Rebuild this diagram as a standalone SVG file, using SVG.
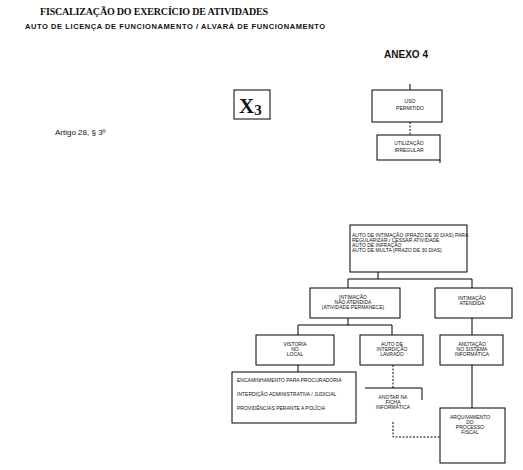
<svg xmlns="http://www.w3.org/2000/svg" width="523" height="470" viewBox="0 0 523 470">
<style>
.box{fill:none;stroke:#000;stroke-width:1}
.ln{fill:none;stroke:#000;stroke-width:1}
.dash{fill:none;stroke:#000;stroke-width:1;stroke-dasharray:2 1.5}
.t{font-family:"Liberation Sans",Arial,sans-serif;font-size:5px;fill:#111;text-anchor:middle}
.tl{font-family:"Liberation Sans",Arial,sans-serif;font-size:5px;fill:#111}
</style>
<rect width="523" height="470" fill="#fff"/>
<g id="title">
<text x="154" y="15" font-family="Liberation Serif,serif" font-weight="bold" font-size="10" text-anchor="middle" textLength="228" fill="#111">FISCALIZAÇÃO DO EXERCÍCIO DE ATIVIDADES</text>
<text x="175" y="29" font-family="Liberation Sans,Arial,sans-serif" font-weight="bold" font-size="7.5" text-anchor="middle" textLength="300" fill="#111">AUTO DE LICENÇA DE FUNCIONAMENTO / ALVARÁ DE FUNCIONAMENTO</text>
</g>
<g id="anexo"><text x="406" y="58" font-family="Liberation Sans,Arial,sans-serif" font-weight="bold" font-size="10" text-anchor="middle" fill="#111">ANEXO 4</text></g>
<g id="x3">
<rect x="234" y="90" width="36" height="29" class="box"/>
<text x="239" y="113" font-family="Liberation Serif,serif" font-weight="bold" font-size="21" fill="#111">X<tspan font-size="15" dy="2">3</tspan></text>
</g>
<g id="artigo"><text x="55" y="135" font-family="Liberation Sans,Arial,sans-serif" font-size="8" fill="#111">Artigo 28, § 3º</text></g>
<g id="connectors">
<path class="ln" d="M410 84V90"/>
<path class="dash" d="M410 122V135"/>
<path class="ln" d="M440 160V163"/>
<path class="ln" d="M378 272V279M348 279H472M348 279V288M472 279V288"/>
<path class="ln" d="M348 318V325M298 325H392M298 325V335M392 325V335"/>
<path class="ln" d="M472 318V335"/>
<path class="ln" d="M298 365V372"/>
<path class="dash" d="M393 365V388"/>
<path class="dash" d="M393 422V437H440"/>
<path class="ln" d="M472 365V408"/>
</g>
<g id="uso">
<rect x="372" y="90" width="70" height="32" class="box"/>
<text class="t" x="410" y="103">USO</text>
<text class="t" x="410" y="110">PERMITIDO</text>
</g>
<g id="utilizacao">
<rect x="377" y="135" width="63" height="25" class="box"/>
<text class="t" x="409" y="145">UTILIZAÇÃO</text>
<text class="t" x="409" y="152">IRREGULAR</text>
</g>
<g id="auto-intimacao">
<rect x="350" y="225" width="117" height="47" class="box"/>
<text class="tl" x="352" y="237">AUTO DE INTIMAÇÃO (PRAZO DE 30 DIAS) PARA</text>
<text class="tl" x="352" y="242">REGULARIZAR / CESSAR ATIVIDADE</text>
<text class="tl" x="352" y="247">AUTO DE INFRAÇÃO</text>
<text class="tl" x="352" y="252">AUTO DE MULTA (PRAZO DE 30 DIAS)</text>
</g>
<g id="nao-atendida">
<rect x="310" y="288" width="90" height="30" class="box"/>
<text class="t" x="353" y="299">INTIMAÇÃO</text>
<text class="t" x="353" y="304">NÃO ATENDIDA</text>
<text class="t" x="353" y="309">(ATIVIDADE PERMANECE)</text>
</g>
<g id="atendida">
<rect x="435" y="288" width="77" height="30" class="box"/>
<text class="t" x="472" y="300">INTIMAÇÃO</text>
<text class="t" x="472" y="305">ATENDIDA</text>
</g>
<g id="vistoria">
<rect x="256" y="335" width="78" height="30" class="box"/>
<text class="t" x="295" y="346">VISTORIA</text>
<text class="t" x="295" y="351">NO</text>
<text class="t" x="295" y="356">LOCAL</text>
</g>
<g id="interdicao">
<rect x="360" y="335" width="63" height="30" class="box"/>
<text class="t" x="392" y="346">AUTO DE</text>
<text class="t" x="392" y="351">INTERDIÇÃO</text>
<text class="t" x="392" y="356">LAVRADO</text>
</g>
<g id="anotacao">
<rect x="440" y="335" width="63" height="30" class="box"/>
<text class="t" x="472" y="346">ANOTAÇÃO</text>
<text class="t" x="472" y="351">NO SISTEMA</text>
<text class="t" x="472" y="356">INFORMÁTICA</text>
</g>
<g id="providencias">
<rect x="232" y="372" width="124" height="51" class="box"/>
<text class="tl" x="237" y="382">ENCAMINHAMENTO PARA PROCURADORIA</text>
<text class="tl" x="237" y="396">INTERDIÇÃO ADMINISTRATIVA / JUDICIAL</text>
<text class="tl" x="237" y="410">PROVIDÊNCIAS PERANTE A POLÍCIA</text>
</g>
<g id="anotar">
<path class="ln" d="M365 388H422V400"/>
<text class="t" x="393" y="399">ANOTAR NA</text>
<text class="t" x="393" y="404">FICHA</text>
<text class="t" x="393" y="409">INFORMÁTICA</text>
</g>
<g id="arquivamento">
<rect x="440" y="408" width="65" height="55" class="box"/>
<text class="t" x="470" y="419">ARQUIVAMENTO</text>
<text class="t" x="470" y="424">DO</text>
<text class="t" x="470" y="429">PROCESSO</text>
<text class="t" x="470" y="434">FISCAL</text>
</g>
</svg>
